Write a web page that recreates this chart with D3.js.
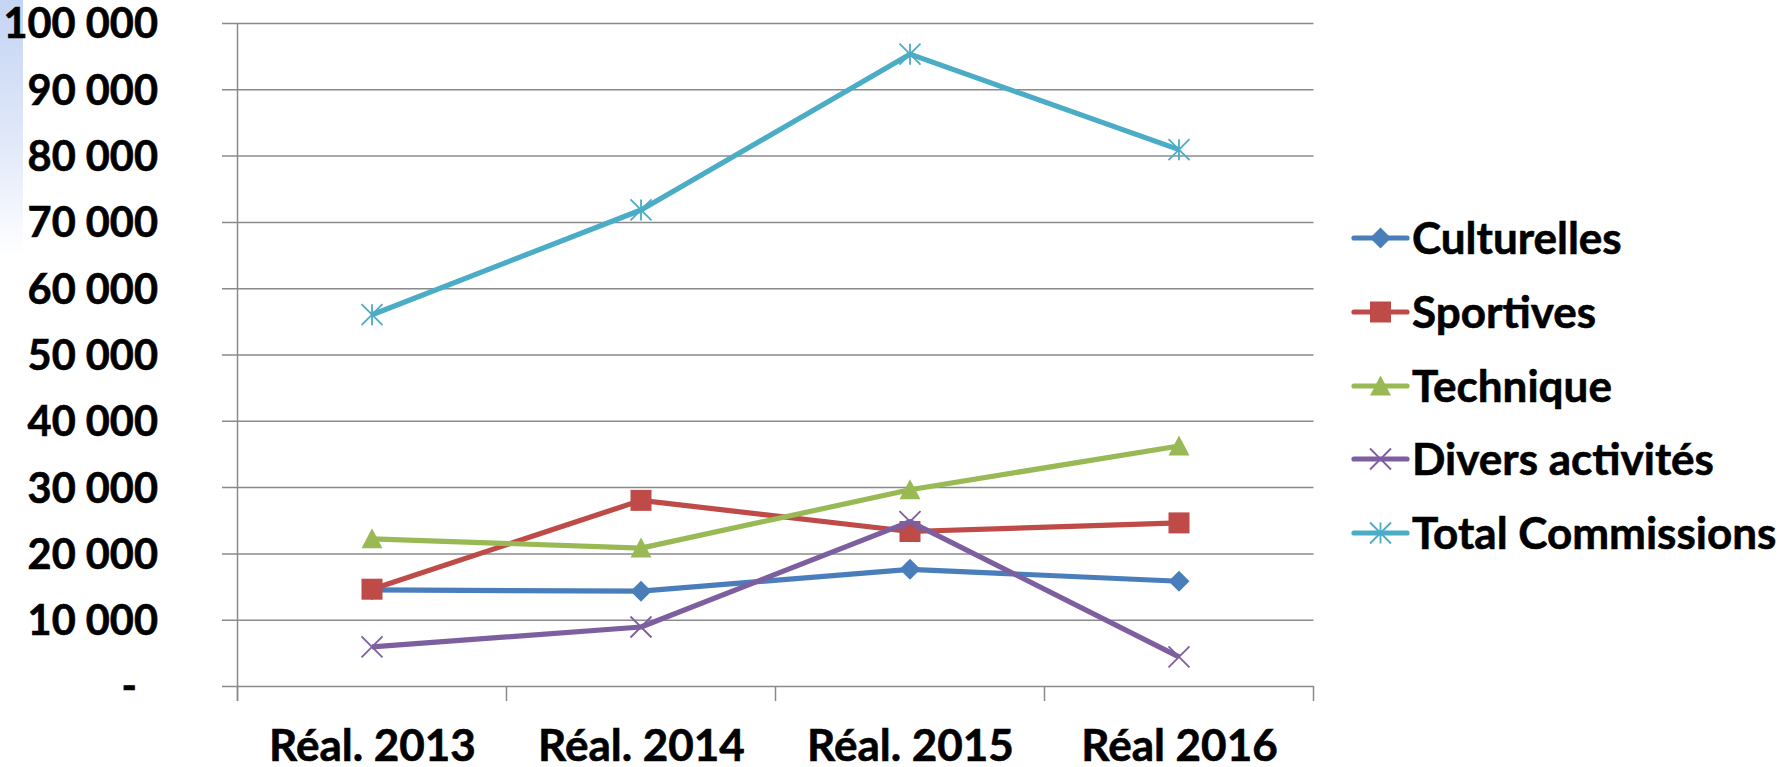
<!DOCTYPE html>
<html>
<head>
<meta charset="utf-8">
<script src="https://cdn.jsdelivr.net/npm/d3@7"></script>
<style>
  html, body { margin: 0; padding: 0; background: #ffffff; }
  svg { display: block; }
  text { font-family: Lato, "Open Sans", "DejaVu Sans", sans-serif; font-weight: 700; fill: #000; stroke: #000; stroke-width: 0.6px; }
</style>
</head>
<body>
<svg id="chart" width="1783" height="767"></svg>
<script>
// ---- data ----
const categories = ["Réal. 2013", "Réal. 2014", "Réal. 2015", "Réal 2016"];
const seriesNames = ["Culturelles", "Sportives", "Technique", "Divers activités", "Total Commissions"];
const culturelles = [14500, 14300, 17600, 15800];
const sportives = [14600, 28000, 23300, 24600];
const technique = [22200, 20800, 29600, 36200];
const divers = [5900, 8900, 24800, 4400];
const totalCommissions = [56000, 71800, 95300, 80900];
const yTicks = [0, 10000, 20000, 30000, 40000, 50000, 60000, 70000, 80000, 90000, 100000];

const seriesValues = [culturelles, sportives, technique, divers, totalCommissions];
const colors = ["#4A7EBB", "#BE4B48", "#98B954", "#7D5FA0", "#4BACC6"];
const markers = ["diamond", "square", "triangle", "x", "star"];

// ---- layout ----
const svg = d3.select("#chart");
const plotLeft = 237.5, plotRight = 1313.5, plotTop = 23, plotBottom = 686;

// left decorative gradient strip
const defs = svg.append("defs");
const grad = defs.append("linearGradient").attr("id", "leftGrad").attr("x1", 0).attr("y1", 0).attr("x2", 0).attr("y2", 1);
grad.append("stop").attr("offset", "0%").attr("stop-color", "#c4d4f3");
grad.append("stop").attr("offset", "60%").attr("stop-color", "#e3eafa");
grad.append("stop").attr("offset", "100%").attr("stop-color", "#ffffff");
svg.append("rect").attr("x", 0).attr("y", 0).attr("width", 23).attr("height", 255).attr("fill", "url(#leftGrad)");

const y = d3.scaleLinear().domain([0, 100000]).range([plotBottom, plotTop]);
const xBand = d3.scaleBand().domain(categories).range([plotLeft, plotRight]).paddingInner(0).paddingOuter(0);
const xPoint = d3.scalePoint().domain(categories).range([plotLeft, plotRight]).padding(0.5);

const fmt = v => v === 0 ? "-" : d3.format(",")(v).replace(/,/g, " ");

// y axis with gridlines
const gridLeft = 222;
const yAxis = d3.axisLeft(y).tickValues(yTicks).tickFormat(fmt)
  .tickSizeInner(-(plotRight - gridLeft)).tickSizeOuter(0).tickPadding(64);
const gy = svg.append("g").attr("transform", `translate(${gridLeft},0)`).call(yAxis);
gy.select(".domain").remove();
gy.selectAll(".tick line").attr("stroke", "#8a8a8a").attr("stroke-width", 1.5);
gy.selectAll(".tick text").style("font-size", "41.5px").attr("dy", "0.36em")
  .attr("x", d => d === 0 ? -85 : -64);

// y axis line
svg.append("line").attr("x1", plotLeft).attr("x2", plotLeft).attr("y1", plotTop).attr("y2", plotBottom + 15)
  .attr("stroke", "#8a8a8a").attr("stroke-width", 1.5);

// x axis: labels
const xAxis = d3.axisBottom(xPoint).tickSize(0).tickPadding(0);
const gx = svg.append("g").attr("transform", `translate(0,${plotBottom})`).call(xAxis);
gx.select(".domain").remove();
gx.selectAll(".tick text").style("font-size", "44px").attr("y", 75).attr("dy", 0);

// x axis boundary ticks
const boundaries = categories.map(c => xBand(c)).concat([plotRight]);
svg.append("g").selectAll("line").data(boundaries).join("line")
  .attr("x1", d => d).attr("x2", d => d).attr("y1", plotBottom).attr("y2", plotBottom + 15)
  .attr("stroke", "#8a8a8a").attr("stroke-width", 1.5);

// marker drawing
function drawMarker(g, type, color, cx, cy) {
  const s = 10.5;
  if (type === "diamond") {
    g.append("path").attr("d", `M${cx},${cy - s}L${cx + s},${cy}L${cx},${cy + s}L${cx - s},${cy}Z`).attr("fill", color);
  } else if (type === "square") {
    g.append("rect").attr("x", cx - s).attr("y", cy - s).attr("width", 2 * s).attr("height", 2 * s).attr("fill", color);
  } else if (type === "triangle") {
    g.append("path").attr("d", `M${cx},${cy - s}L${cx + s},${cy + 9.5}L${cx - s},${cy + 9.5}Z`).attr("fill", color);
  } else if (type === "x") {
    g.append("path").attr("d", `M${cx - s},${cy - s}L${cx + s},${cy + s}M${cx - s},${cy + s}L${cx + s},${cy - s}`)
      .attr("stroke", color).attr("stroke-width", 1.8).attr("fill", "none");
  } else if (type === "star") {
    g.append("path").attr("d", `M${cx - s},${cy - s}L${cx + s},${cy + s}M${cx - s},${cy + s}L${cx + s},${cy - s}M${cx},${cy - s}L${cx},${cy + s}`)
      .attr("stroke", color).attr("stroke-width", 1.8).attr("fill", "none");
  }
}

// lines
const line = d3.line().x((d, i) => xPoint(categories[i])).y(d => y(d));
seriesValues.forEach((vals, si) => {
  const g = svg.append("g");
  g.append("path").datum(vals).attr("d", line).attr("fill", "none")
    .attr("stroke", colors[si]).attr("stroke-width", 5.2).attr("stroke-linejoin", "round");
  vals.forEach((v, i) => drawMarker(g, markers[si], colors[si], xPoint(categories[i]), y(v)));
});

// legend
const legendRows = [238, 312, 386, 459, 533];
seriesNames.forEach((name, si) => {
  const g = svg.append("g");
  const ly = legendRows[si];
  g.append("line").attr("x1", 1354).attr("x2", 1407).attr("y1", ly).attr("y2", ly)
    .attr("stroke", colors[si]).attr("stroke-width", 5.2).attr("stroke-linecap", "round");
  drawMarker(g, markers[si], colors[si], 1380.5, ly);
  g.append("text").attr("x", 1412).attr("y", ly).attr("dy", "0.36em").style("font-size", "44px").text(name);
});
</script>
</body>
</html>
